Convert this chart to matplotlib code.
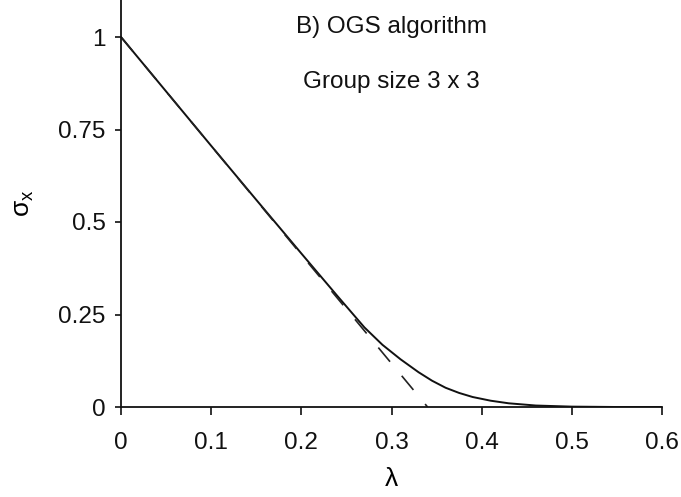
import matplotlib
matplotlib.use("Agg")
import matplotlib.pyplot as plt

# lambda values and sigma_x
lam = [0, 0.05, 0.1, 0.15, 0.2, 0.24, 0.27, 0.29, 0.31, 0.33, 0.345, 0.36, 0.375, 0.39, 0.41, 0.43, 0.46, 0.5, 0.55, 0.6]
sigma_x = [1, 0.853, 0.706, 0.56, 0.415, 0.30, 0.215, 0.168, 0.129, 0.094, 0.071, 0.052, 0.038, 0.027, 0.017, 0.010, 0.004, 0.001, 0, 0]

# dashed linear approximation
lam_lin = [0, 0.34]
sigma_lin = [1, 0]

xticks = [0, 0.1, 0.2, 0.3, 0.4, 0.5, 0.6]
xtick_labels = ['0', '0.1', '0.2', '0.3', '0.4', '0.5', '0.6']
yticks = [0, 0.25, 0.5, 0.75, 1]
ytick_labels = ['0', '0.25', '0.5', '0.75', '1']

plt.rcParams['font.family'] = ['Liberation Sans', 'DejaVu Sans']
plt.rcParams['mathtext.fontset'] = 'custom'
plt.rcParams['mathtext.rm'] = 'Liberation Sans'
plt.rcParams['mathtext.it'] = 'Liberation Sans'

fig = plt.figure(figsize=(6.81, 4.97), dpi=100)
ax = fig.add_axes([121 / 681, 1 - 407 / 497, (662 - 121) / 681, 407 / 497])

ax.plot(lam, sigma_x, color='#111111', lw=1.4, solid_joinstyle='round')
ax.plot(lam_lin, sigma_lin, color='#222222', lw=1.2, dashes=(11, 11))

ax.set_xlim(0, 0.6)
ax.set_ylim(0, 1.1)
ax.set_xticks(xticks)
ax.set_xticklabels(xtick_labels)
ax.set_yticks(yticks)
ax.set_yticklabels(ytick_labels)

for s in ['top', 'right']:
    ax.spines[s].set_visible(False)
for s in ['left', 'bottom']:
    ax.spines[s].set_linewidth(1.3)
    ax.spines[s].set_color('#111111')

ax.tick_params(axis='x', direction='out', length=6, width=1.2, pad=12, labelsize=17.5, colors='#111111')
ax.tick_params(axis='y', direction='out', length=4, width=1.2, pad=7, labelsize=17.5, colors='#111111')

ax.set_xlabel('λ', fontsize=19, labelpad=9)
ax.set_ylabel(r'$\sigma_x$', fontsize=19, labelpad=16)

ax.text(0.3, 1.011, 'B) OGS algorithm', ha='center', va='baseline', fontsize=17.5, color='#111111')
ax.text(0.3, 0.862, 'Group size 3 x 3', ha='center', va='baseline', fontsize=17.5, color='#111111')

fig.savefig('out.png', dpi=100)
